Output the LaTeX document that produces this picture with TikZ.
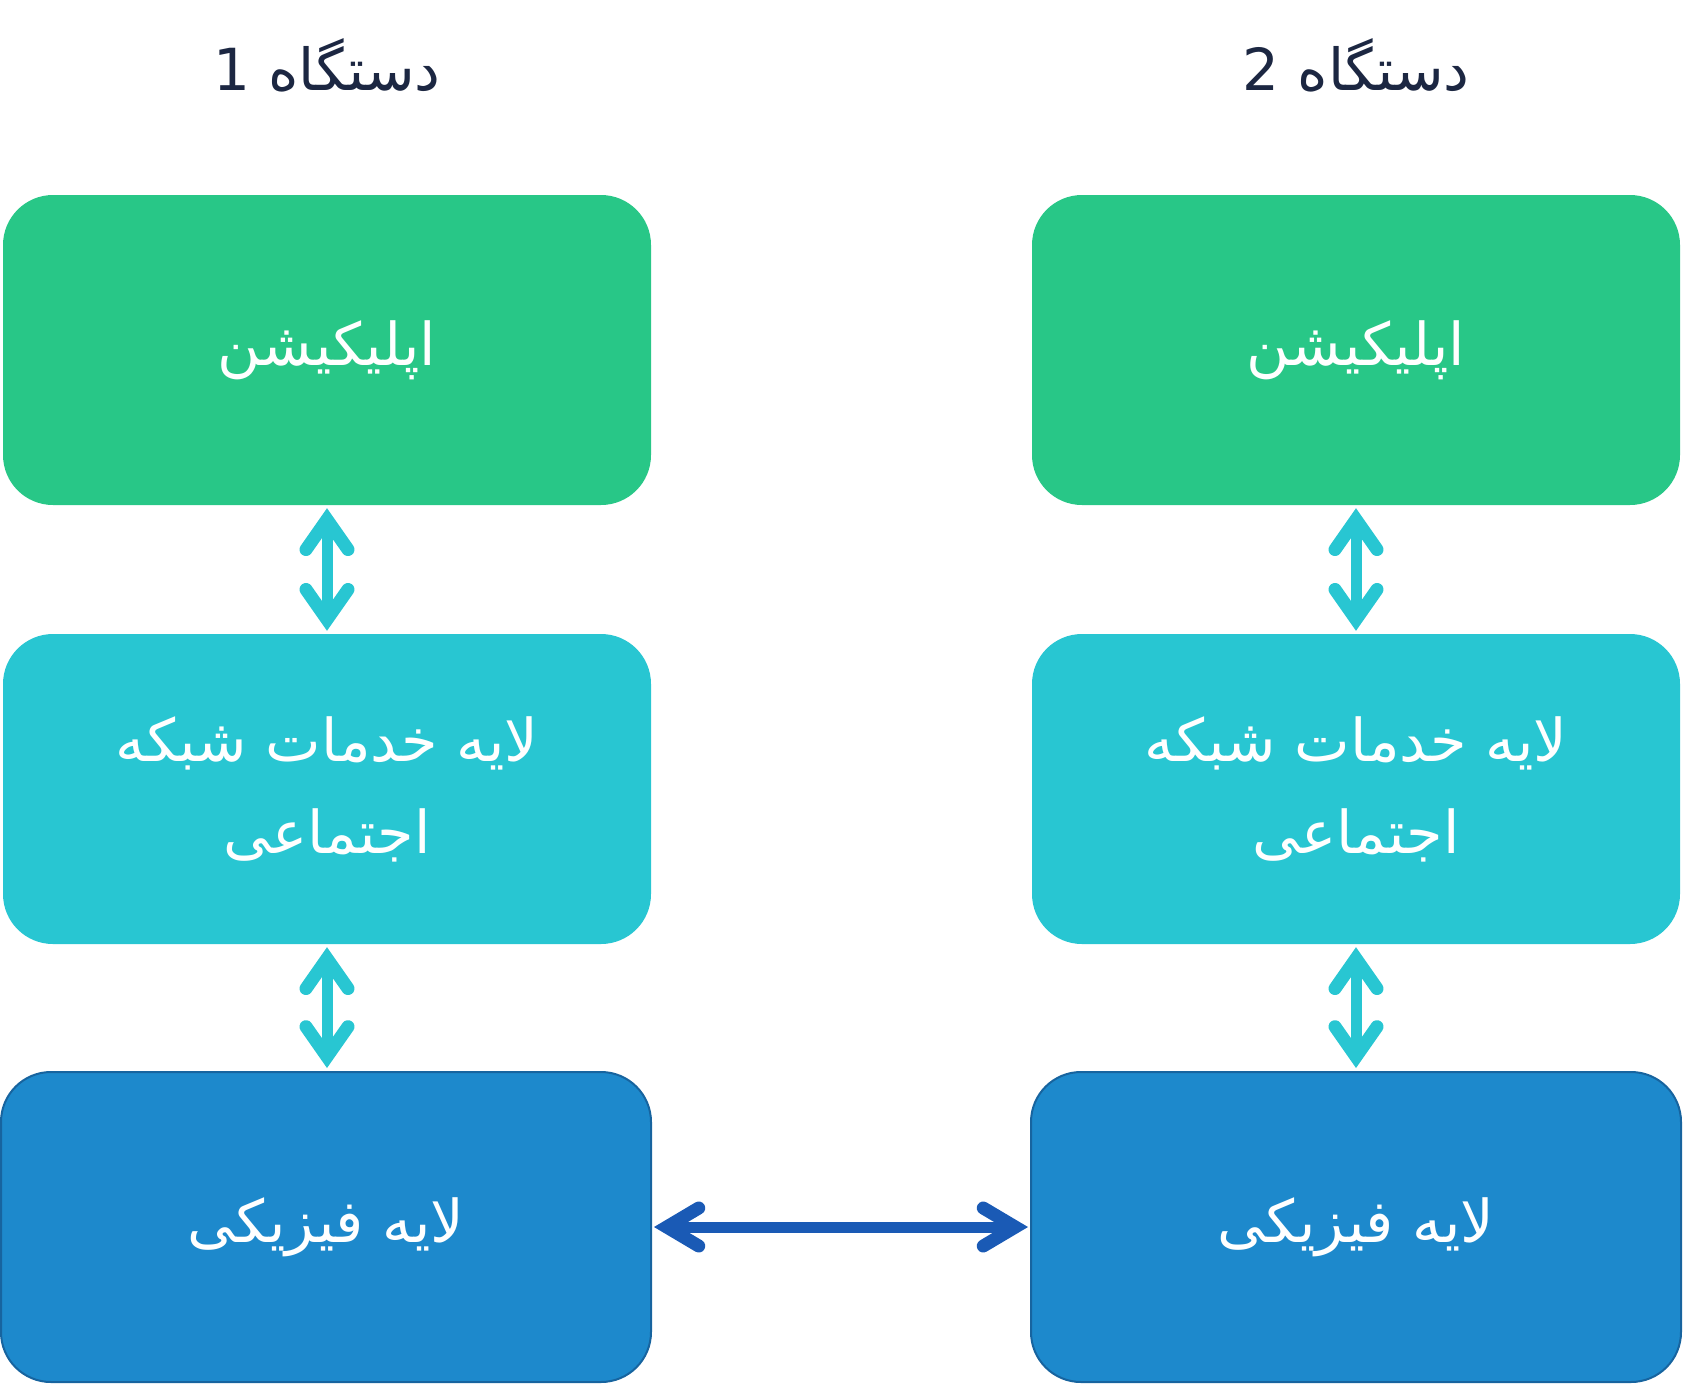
\documentclass[tikz,border=0pt]{standalone}
\usepackage{fontspec}
\usetikzlibrary{arrows.meta}
\TeXXeTstate=1
\newfontfamily\arabicfont[Script=Arabic]{DejaVu Sans}
\definecolor{cgreen}{HTML}{28C787}
\definecolor{ccyan}{HTML}{28C6D2}
\definecolor{cblue}{HTML}{1D89CC}
\definecolor{cblueedge}{HTML}{17649F}
\definecolor{carrow}{HTML}{1A5AB5}
\definecolor{ctitle}{HTML}{1C2742}
\tikzset{
  layerbox/.style={rounded corners=50pt, minimum width=648pt, minimum height=310pt, inner sep=0pt, text=white, align=center, font=\arabicfont\fontsize{59}{92}\selectfont},
  greenbox/.style={layerbox, fill=cgreen},
  cyanbox/.style={layerbox, fill=ccyan},
  bluebox/.style={layerbox, fill=cblue, draw=cblueedge, line width=2pt, minimum width=650pt, minimum height=310pt},
  title/.style={text=ctitle, font=\arabicfont\fontsize{58}{70}\selectfont},
  vlink/.style={line width=11pt, ccyan, {Straight Barb[length=30pt,width=42pt,line width=13pt 0,line cap=round,line join=miter]}-{Straight Barb[length=30pt,width=42pt,line width=13pt 0,line cap=round,line join=miter]}, shorten <=3pt, shorten >=3pt},
  hlink/.style={line width=11pt, carrow, {Straight Barb[length=32pt,width=38pt,line width=13pt 0,line cap=round,line join=miter]}-{Straight Barb[length=32pt,width=38pt,line width=13pt 0,line cap=round,line join=miter]}, shorten <=2pt, shorten >=2pt}
}
\begin{document}
\begin{tikzpicture}[x=1pt,y=-1pt]
\useasboundingbox (0,0) rectangle (1684,1385);
\node[title] (t1) at (327,65) {\beginR دستگاه 1\endR};
\node[title] (t2) at (1356,65) {\beginR دستگاه 2\endR};
\node[greenbox] (g1) at (327,350) {\beginR اپلیکیشن\endR};
\node[greenbox] (g2) at (1356,350) {\beginR اپلیکیشن\endR};
\node[cyanbox] (c1) at (327,789) {\beginR لایه خدمات شبکه\endR\\\beginR اجتماعی\endR};
\node[cyanbox] (c2) at (1356,789) {\beginR لایه خدمات شبکه\endR\\\beginR اجتماعی\endR};
\node[bluebox] (b1) at (326,1227) {\beginR لایه فیزیکی\endR};
\node[bluebox] (b2) at (1356,1227) {\beginR لایه فیزیکی\endR};
\draw[vlink] (g1.south) -- (c1.north);
\draw[vlink] (g2.south) -- (c2.north);
\draw[vlink] (c1.south) -- (b1.north -| c1.south);
\draw[vlink] (c2.south) -- (b2.north);
\draw[hlink] (b1.east) -- (b2.west);
\end{tikzpicture}
\end{document}
